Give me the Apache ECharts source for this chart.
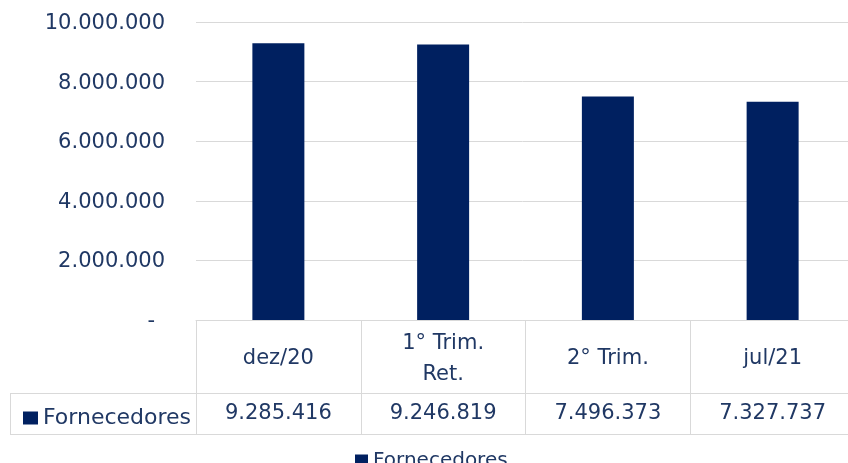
<!DOCTYPE html>
<html>
<head>
<meta charset="utf-8">
<script src="https://cdn.jsdelivr.net/npm/echarts@6/dist/echarts.min.js"></script>
<style>
  html, body { margin: 0; padding: 0; background: #fff; }
  #chart { width: 848px; height: 463px; }
</style>
</head>
<body>
<div id="chart"></div>
<script>
// data
const categories = ['dez/20', '1° Trim.\nRet.', '2° Trim.', 'jul/21']
const fornecedores = [9285416, 9246819, 7496373, 7327737]
const yTicks = [0, 2000000, 4000000, 6000000, 8000000, 10000000]
const seriesName = 'Fornecedores'

const textColor = '#203864'
const barColor = '#002060'
const lineColor = '#d9d9d9'
const font = 'DejaVu Sans'

function fmt(v) {
  if (v === 0) return '-'
  return String(v).replace(/\B(?=(\d{3})+(?!\d))/g, '.')
}

const chart = echarts.init(document.getElementById('chart'))
chart.setOption({
  animation: false,
  textStyle: { fontFamily: font },
  grid: { left: 196, top: 22, width: 659, height: 298, outerBoundsMode: 'none' },
  legend: [
    {
      left: 18, top: 402,
      icon: 'rect', itemWidth: 15, itemHeight: 13, itemGap: 7,
      data: [seriesName],
      textStyle: { color: textColor, fontSize: 22, fontFamily: font }
    },
    {
      left: 350, top: 446,
      icon: 'rect', itemWidth: 13, itemHeight: 13, itemGap: 7,
      data: [seriesName],
      textStyle: { color: textColor, fontSize: 20, fontFamily: font }
    }
  ],
  xAxis: [
    {
      type: 'category',
      data: categories,
      position: 'bottom',
      axisLine: { lineStyle: { color: lineColor, width: 1 } },
      axisTick: { show: true, length: 114, interval: 0, lineStyle: { color: lineColor } },
      axisLabel: {
        interval: 0, margin: 39, verticalAlign: 'middle',
        color: textColor, fontSize: 21, lineHeight: 31, fontFamily: font
      }
    },
    {
      type: 'category',
      data: fornecedores.map(fmt),
      position: 'bottom',
      offset: 0,
      axisLine: { show: false },
      axisTick: { show: false },
      axisLabel: {
        interval: 0, margin: 94, verticalAlign: 'middle',
        color: textColor, fontSize: 21, fontFamily: font
      }
    }
  ],
  yAxis: {
    type: 'value',
    min: yTicks[0],
    max: yTicks[yTicks.length - 1],
    interval: yTicks[1] - yTicks[0],
    axisLine: { show: false },
    axisTick: { show: false },
    splitLine: { lineStyle: { color: lineColor, width: 1 } },
    axisLabel: {
      margin: 31,
      color: textColor,
      fontSize: 21,
      fontFamily: font,
      padding: [3, 0, 0, 0],
      formatter: v => (v === 0 ? '{z|-}' : fmt(v)),
      rich: { z: { color: textColor, fontSize: 21, fontFamily: font, padding: [0, 10, 0, 0] } }
    }
  },
  graphic: [
    { type: 'line', shape: { x1: 10, y1: 393.5, x2: 848, y2: 393.5 }, style: { stroke: lineColor, lineWidth: 1 } },
    { type: 'line', shape: { x1: 10, y1: 434.5, x2: 848, y2: 434.5 }, style: { stroke: lineColor, lineWidth: 1 } },
    { type: 'line', shape: { x1: 10.5, y1: 393, x2: 10.5, y2: 435 }, style: { stroke: lineColor, lineWidth: 1 } }
  ],
  series: [
    {
      name: seriesName,
      type: 'bar',
      data: fornecedores,
      barWidth: 52,
      itemStyle: { color: barColor }
    }
  ]
})
</script>
</body>
</html>
